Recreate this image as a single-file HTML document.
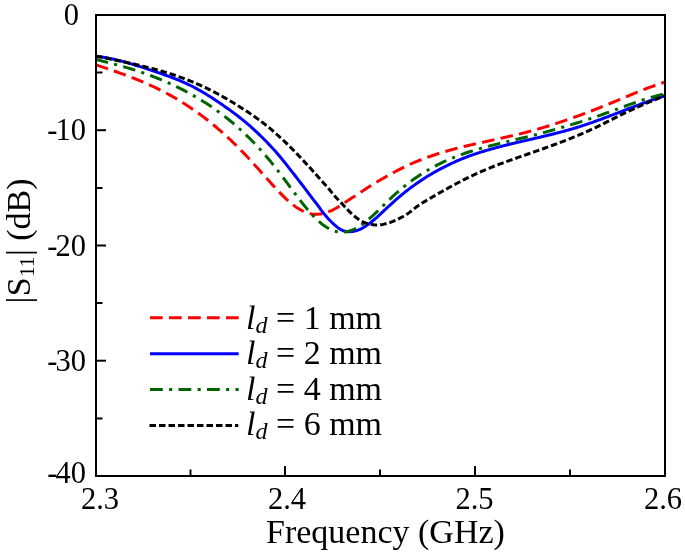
<!DOCTYPE html>
<html><head><meta charset="utf-8"><style>
html,body{margin:0;padding:0;background:#fff;}
body{width:685px;height:556px;overflow:hidden;position:relative;}
svg{position:absolute;left:0;top:0;will-change:transform;}
text{font-family:"Liberation Serif",serif;fill:#000;}
</style></head><body>
<svg width="685" height="556" viewBox="0 0 685 556">
<g fill="none" stroke-width="3" stroke-linejoin="round">
<path d="M96.00 64.91 L97.50 65.40 L99.00 65.90 L100.50 66.39 L102.00 66.89 L103.50 67.39 L105.00 67.89 L106.50 68.40 L108.00 68.90 L109.50 69.41 L111.00 69.92 L112.50 70.44 L114.00 70.96 L115.50 71.48 L117.00 72.01 L118.50 72.54 L120.00 73.08 L121.50 73.62 L123.00 74.16 L124.50 74.72 L126.00 75.27 L127.50 75.83 L129.00 76.40 L130.50 76.98 L132.00 77.56 L133.50 78.14 L135.00 78.74 L136.50 79.34 L138.00 79.95 L139.50 80.56 L141.00 81.19 L142.50 81.82 L144.00 82.46 L145.50 83.11 L147.00 83.77 L148.50 84.43 L150.00 85.11 L151.50 85.80 L153.00 86.49 L154.50 87.20 L156.00 87.91 L157.50 88.64 L159.00 89.37 L160.50 90.12 L162.00 90.88 L163.50 91.65 L165.00 92.43 L166.50 93.23 L168.00 94.03 L169.50 94.85 L171.00 95.68 L172.50 96.52 L174.00 97.38 L175.50 98.25 L177.00 99.13 L178.50 100.03 L180.00 100.94 L181.50 101.86 L183.00 102.80 L184.50 103.75 L186.00 104.71 L187.50 105.69 L189.00 106.68 L190.50 107.69 L192.00 108.71 L193.50 109.74 L195.00 110.79 L196.50 111.85 L198.00 112.93 L199.50 114.02 L201.00 115.12 L202.50 116.25 L204.00 117.38 L205.50 118.53 L207.00 119.70 L208.50 120.88 L210.00 122.07 L211.50 123.28 L213.00 124.51 L214.50 125.75 L216.00 127.00 L217.50 128.27 L219.00 129.56 L220.50 130.86 L222.00 132.18 L223.50 133.52 L225.00 134.87 L226.50 136.23 L228.00 137.62 L229.50 139.01 L231.00 140.43 L232.50 141.86 L234.00 143.31 L235.50 144.77 L237.00 146.25 L238.50 147.75 L240.00 149.26 L241.50 150.79 L243.00 152.34 L244.50 153.90 L246.00 155.49 L247.50 157.08 L249.00 158.70 L250.50 160.32 L252.00 161.96 L253.50 163.61 L255.00 165.27 L256.50 166.93 L258.00 168.60 L259.50 170.28 L261.00 171.96 L262.50 173.65 L264.00 175.33 L265.50 177.01 L267.00 178.69 L268.50 180.37 L270.00 182.04 L271.50 183.71 L273.00 185.37 L274.50 187.01 L276.00 188.64 L277.50 190.25 L279.00 191.84 L280.50 193.39 L282.00 194.92 L283.50 196.41 L285.00 197.86 L286.50 199.27 L288.00 200.64 L289.50 201.95 L291.00 203.22 L292.50 204.42 L294.00 205.56 L295.50 206.64 L297.00 207.65 L298.50 208.59 L300.00 209.46 L301.50 210.32 L303.00 211.09 L304.50 211.79 L306.00 212.40 L307.50 212.94 L309.00 213.40 L310.50 213.75 L312.00 213.99 L313.50 214.15 L315.00 214.23 L316.50 214.25 L318.00 214.20 L319.50 214.08 L321.00 213.90 L322.50 213.63 L324.00 213.26 L325.50 212.83 L327.00 212.34 L328.50 211.79 L330.00 211.18 L331.50 210.52 L333.00 209.81 L334.50 209.04 L336.00 208.22 L337.50 207.35 L339.00 206.44 L340.50 205.50 L342.00 204.52 L343.50 203.53 L345.00 202.51 L346.50 201.55 L348.00 200.58 L349.50 199.59 L351.00 198.61 L352.50 197.62 L354.00 196.63 L355.50 195.65 L357.00 194.66 L358.50 193.67 L360.00 192.69 L361.50 191.70 L363.00 190.72 L364.50 189.74 L366.00 188.76 L367.50 187.79 L369.00 186.82 L370.50 185.87 L372.00 184.95 L373.50 184.04 L375.00 183.13 L376.50 182.23 L378.00 181.33 L379.50 180.45 L381.00 179.57 L382.50 178.70 L384.00 177.84 L385.50 176.99 L387.00 176.15 L388.50 175.32 L390.00 174.50 L391.50 173.66 L393.00 172.83 L394.50 172.01 L396.00 171.20 L397.50 170.41 L399.00 169.64 L400.50 168.87 L402.00 168.13 L403.50 167.39 L405.00 166.67 L406.50 165.96 L408.00 165.26 L409.50 164.58 L411.00 163.91 L412.50 163.25 L414.00 162.60 L415.50 161.97 L417.00 161.35 L418.50 160.74 L420.00 160.14 L421.50 159.55 L423.00 158.97 L424.50 158.40 L426.00 157.84 L427.50 157.30 L429.00 156.76 L430.50 156.23 L432.00 155.72 L433.50 155.21 L435.00 154.71 L436.50 154.22 L438.00 153.74 L439.50 153.26 L441.00 152.80 L442.50 152.34 L444.00 151.89 L445.50 151.45 L447.00 151.02 L448.50 150.59 L450.00 150.17 L451.50 149.76 L453.00 149.35 L454.50 148.95 L456.00 148.55 L457.50 148.16 L459.00 147.78 L460.50 147.40 L462.00 147.03 L463.50 146.66 L465.00 146.29 L466.50 145.93 L468.00 145.57 L469.50 145.22 L471.00 144.87 L472.50 144.52 L474.00 144.18 L475.50 143.84 L477.00 143.50 L478.50 143.16 L480.00 142.83 L481.50 142.50 L483.00 142.17 L484.50 141.84 L486.00 141.51 L487.50 141.18 L489.00 140.86 L490.50 140.53 L492.00 140.20 L493.50 139.88 L495.00 139.55 L496.50 139.22 L498.00 138.90 L499.50 138.57 L501.00 138.24 L502.50 137.90 L504.00 137.57 L505.50 137.24 L507.00 136.90 L508.50 136.56 L510.00 136.22 L511.50 135.87 L513.00 135.52 L514.50 135.17 L516.00 134.81 L517.50 134.45 L519.00 134.09 L520.50 133.72 L522.00 133.35 L523.50 132.97 L525.00 132.59 L526.50 132.20 L528.00 131.81 L529.50 131.41 L531.00 131.01 L532.50 130.60 L534.00 130.18 L535.50 129.76 L537.00 129.34 L538.50 128.91 L540.00 128.48 L541.50 128.04 L543.00 127.59 L544.50 127.14 L546.00 126.69 L547.50 126.23 L549.00 125.77 L550.50 125.30 L552.00 124.83 L553.50 124.35 L555.00 123.87 L556.50 123.39 L558.00 122.89 L559.50 122.40 L561.00 121.90 L562.50 121.40 L564.00 120.89 L565.50 120.38 L567.00 119.86 L568.50 119.34 L570.00 118.82 L571.50 118.29 L573.00 117.76 L574.50 117.23 L576.00 116.69 L577.50 116.14 L579.00 115.60 L580.50 115.05 L582.00 114.49 L583.50 113.93 L585.00 113.37 L586.50 112.81 L588.00 112.24 L589.50 111.67 L591.00 111.09 L592.50 110.51 L594.00 109.93 L595.50 109.35 L597.00 108.76 L598.50 108.17 L600.00 107.57 L601.50 106.97 L603.00 106.37 L604.50 105.77 L606.00 105.16 L607.50 104.55 L609.00 103.94 L610.50 103.33 L612.00 102.71 L613.50 102.09 L615.00 101.47 L616.50 100.84 L618.00 100.21 L619.50 99.58 L621.00 98.95 L622.50 98.32 L624.00 97.69 L625.50 97.06 L627.00 96.43 L628.50 95.80 L630.00 95.17 L631.50 94.55 L633.00 93.93 L634.50 93.31 L636.00 92.69 L637.50 92.08 L639.00 91.47 L640.50 90.87 L642.00 90.27 L643.50 89.68 L645.00 89.10 L646.50 88.52 L648.00 87.95 L649.50 87.39 L651.00 86.84 L652.50 86.29 L654.00 85.75 L655.50 85.23 L657.00 84.71 L658.50 84.21 L660.00 83.71 L661.50 83.23 L663.00 82.76 L664.50 82.30 L665.00 82.15" stroke="#ff0000" stroke-dasharray="12.64 6.27" stroke-dashoffset="0.05"/>
<path d="M96.00 56.32 L97.50 56.48 L99.00 56.66 L100.50 56.86 L102.00 57.08 L103.50 57.31 L105.00 57.55 L106.50 57.82 L108.00 58.09 L109.50 58.38 L111.00 58.68 L112.50 59.00 L114.00 59.33 L115.50 59.67 L117.00 60.02 L118.50 60.38 L120.00 60.76 L121.50 61.14 L123.00 61.54 L124.50 61.94 L126.00 62.36 L127.50 62.78 L129.00 63.21 L130.50 63.65 L132.00 64.10 L133.50 64.55 L135.00 65.01 L136.50 65.48 L138.00 65.95 L139.50 66.43 L141.00 66.91 L142.50 67.40 L144.00 67.89 L145.50 68.38 L147.00 68.88 L148.50 69.38 L150.00 69.88 L151.50 70.38 L153.00 70.89 L154.50 71.39 L156.00 71.90 L157.50 72.41 L159.00 72.92 L160.50 73.43 L162.00 73.95 L163.50 74.47 L165.00 75.00 L166.50 75.53 L168.00 76.07 L169.50 76.62 L171.00 77.17 L172.50 77.74 L174.00 78.31 L175.50 78.90 L177.00 79.49 L178.50 80.10 L180.00 80.73 L181.50 81.36 L183.00 82.01 L184.50 82.68 L186.00 83.36 L187.50 84.07 L189.00 84.78 L190.50 85.52 L192.00 86.27 L193.50 87.04 L195.00 87.83 L196.50 88.63 L198.00 89.45 L199.50 90.29 L201.00 91.14 L202.50 92.01 L204.00 92.90 L205.50 93.80 L207.00 94.71 L208.50 95.65 L210.00 96.59 L211.50 97.55 L213.00 98.53 L214.50 99.52 L216.00 100.52 L217.50 101.54 L219.00 102.58 L220.50 103.60 L222.00 104.60 L223.50 105.62 L225.00 106.65 L226.50 107.69 L228.00 108.75 L229.50 109.82 L231.00 110.91 L232.50 112.01 L234.00 113.12 L235.50 114.25 L237.00 115.40 L238.50 116.56 L240.00 117.74 L241.50 118.94 L243.00 120.15 L244.50 121.37 L246.00 122.62 L247.50 123.87 L249.00 125.15 L250.50 126.46 L252.00 127.81 L253.50 129.17 L255.00 130.56 L256.50 131.96 L258.00 133.38 L259.50 134.82 L261.00 136.27 L262.50 137.75 L264.00 139.24 L265.50 140.75 L267.00 142.30 L268.50 143.87 L270.00 145.45 L271.50 147.06 L273.00 148.68 L274.50 150.32 L276.00 151.98 L277.50 153.73 L279.00 155.50 L280.50 157.29 L282.00 159.10 L283.50 160.93 L285.00 162.80 L286.50 164.70 L288.00 166.62 L289.50 168.55 L291.00 170.50 L292.50 172.39 L294.00 174.30 L295.50 176.22 L297.00 178.14 L298.50 180.08 L300.00 182.02 L301.50 183.96 L303.00 185.91 L304.50 187.86 L306.00 189.85 L307.50 191.87 L309.00 193.89 L310.50 195.90 L312.00 197.91 L313.50 199.87 L315.00 201.76 L316.50 203.68 L318.00 205.67 L319.50 207.70 L321.00 209.76 L322.50 211.88 L324.00 213.79 L325.50 215.56 L327.00 217.29 L328.50 218.92 L330.00 220.48 L331.50 222.01 L333.00 223.46 L334.50 224.84 L336.00 226.15 L337.50 227.37 L339.00 228.45 L340.50 229.38 L342.00 230.15 L343.50 230.77 L345.00 231.24 L346.50 231.53 L348.00 231.68 L349.50 231.70 L351.00 231.59 L352.50 231.41 L354.00 231.20 L355.50 230.88 L357.00 230.46 L358.50 229.94 L360.00 229.33 L361.50 228.58 L363.00 227.75 L364.50 226.85 L366.00 225.88 L367.50 224.84 L369.00 223.76 L370.50 222.63 L372.00 221.46 L373.50 220.24 L375.00 218.99 L376.50 217.69 L378.00 216.31 L379.50 214.92 L381.00 213.51 L382.50 212.09 L384.00 210.68 L385.50 209.27 L387.00 207.87 L388.50 206.48 L390.00 205.12 L391.50 203.77 L393.00 202.42 L394.50 201.06 L396.00 199.73 L397.50 198.42 L399.00 197.13 L400.50 195.86 L402.00 194.61 L403.50 193.38 L405.00 192.17 L406.50 190.98 L408.00 189.82 L409.50 188.67 L411.00 187.54 L412.50 186.43 L414.00 185.34 L415.50 184.27 L417.00 183.21 L418.50 182.18 L420.00 181.16 L421.50 180.16 L423.00 179.18 L424.50 178.21 L426.00 177.27 L427.50 176.33 L429.00 175.42 L430.50 174.52 L432.00 173.63 L433.50 172.76 L435.00 171.91 L436.50 171.07 L438.00 170.24 L439.50 169.43 L441.00 168.63 L442.50 167.85 L444.00 167.08 L445.50 166.33 L447.00 165.58 L448.50 164.85 L450.00 164.14 L451.50 163.43 L453.00 162.74 L454.50 162.06 L456.00 161.40 L457.50 160.75 L459.00 160.11 L460.50 159.48 L462.00 158.86 L463.50 158.26 L465.00 157.66 L466.50 157.07 L468.00 156.50 L469.50 155.93 L471.00 155.39 L472.50 154.87 L474.00 154.36 L475.50 153.86 L477.00 153.37 L478.50 152.88 L480.00 152.41 L481.50 151.94 L483.00 151.48 L484.50 151.02 L486.00 150.57 L487.50 150.13 L489.00 149.70 L490.50 149.27 L492.00 148.85 L493.50 148.44 L495.00 148.03 L496.50 147.62 L498.00 147.22 L499.50 146.83 L501.00 146.44 L502.50 146.05 L504.00 145.67 L505.50 145.29 L507.00 144.92 L508.50 144.55 L510.00 144.18 L511.50 143.82 L513.00 143.46 L514.50 143.10 L516.00 142.74 L517.50 142.39 L519.00 142.04 L520.50 141.69 L522.00 141.34 L523.50 140.99 L525.00 140.64 L526.50 140.30 L528.00 139.95 L529.50 139.61 L531.00 139.26 L532.50 138.92 L534.00 138.57 L535.50 138.22 L537.00 137.88 L538.50 137.53 L540.00 137.18 L541.50 136.83 L543.00 136.47 L544.50 136.12 L546.00 135.76 L547.50 135.40 L549.00 135.04 L550.50 134.67 L552.00 134.30 L553.50 133.93 L555.00 133.55 L556.50 133.17 L558.00 132.79 L559.50 132.40 L561.00 132.00 L562.50 131.61 L564.00 131.20 L565.50 130.79 L567.00 130.38 L568.50 129.96 L570.00 129.53 L571.50 129.10 L573.00 128.66 L574.50 128.22 L576.00 127.76 L577.50 127.30 L579.00 126.84 L580.50 126.36 L582.00 125.88 L583.50 125.39 L585.00 124.89 L586.50 124.39 L588.00 123.88 L589.50 123.37 L591.00 122.85 L592.50 122.32 L594.00 121.79 L595.50 121.25 L597.00 120.71 L598.50 120.17 L600.00 119.62 L601.50 119.07 L603.00 118.51 L604.50 117.95 L606.00 117.39 L607.50 116.82 L609.00 116.25 L610.50 115.68 L612.00 115.11 L613.50 114.54 L615.00 113.96 L616.50 113.39 L618.00 112.81 L619.50 112.23 L621.00 111.66 L622.50 111.08 L624.00 110.50 L625.50 109.92 L627.00 109.35 L628.50 108.77 L630.00 108.20 L631.50 107.63 L633.00 107.06 L634.50 106.49 L636.00 105.92 L637.50 105.36 L639.00 104.80 L640.50 104.24 L642.00 103.69 L643.50 103.14 L645.00 102.59 L646.50 102.05 L648.00 101.52 L649.50 100.98 L651.00 100.46 L652.50 99.94 L654.00 99.42 L655.50 98.91 L657.00 98.41 L658.50 97.91 L660.00 97.42 L661.50 96.94 L663.00 96.46 L664.50 95.99 L665.00 95.84" stroke="#0000ff"/>
<path d="M96.00 59.56 L97.50 59.91 L99.00 60.27 L100.50 60.62 L102.00 60.98 L103.50 61.35 L105.00 61.72 L106.50 62.09 L108.00 62.47 L109.50 62.85 L111.00 63.24 L112.50 63.63 L114.00 64.03 L115.50 64.43 L117.00 64.83 L118.50 65.25 L120.00 65.66 L121.50 66.09 L123.00 66.51 L124.50 66.95 L126.00 67.39 L127.50 67.84 L129.00 68.29 L130.50 68.75 L132.00 69.21 L133.50 69.68 L135.00 70.16 L136.50 70.65 L138.00 71.14 L139.50 71.64 L141.00 72.15 L142.50 72.67 L144.00 73.19 L145.50 73.72 L147.00 74.26 L148.50 74.80 L150.00 75.36 L151.50 75.92 L153.00 76.49 L154.50 77.07 L156.00 77.66 L157.50 78.26 L159.00 78.86 L160.50 79.48 L162.00 80.10 L163.50 80.74 L165.00 81.38 L166.50 82.03 L168.00 82.70 L169.50 83.37 L171.00 84.05 L172.50 84.75 L174.00 85.45 L175.50 86.16 L177.00 86.89 L178.50 87.62 L180.00 88.37 L181.50 89.13 L183.00 89.90 L184.50 90.68 L186.00 91.47 L187.50 92.27 L189.00 93.08 L190.50 93.91 L192.00 94.75 L193.50 95.60 L195.00 96.46 L196.50 97.34 L198.00 98.22 L199.50 99.12 L201.00 100.04 L202.50 100.96 L204.00 101.90 L205.50 102.86 L207.00 103.83 L208.50 104.81 L210.00 105.81 L211.50 106.82 L213.00 107.85 L214.50 108.89 L216.00 109.95 L217.50 111.03 L219.00 112.12 L220.50 113.22 L222.00 114.35 L223.50 115.49 L225.00 116.65 L226.50 117.83 L228.00 119.02 L229.50 120.23 L231.00 121.47 L232.50 122.72 L234.00 123.98 L235.50 125.27 L237.00 126.58 L238.50 127.91 L240.00 129.25 L241.50 130.62 L243.00 132.01 L244.50 133.42 L246.00 134.85 L247.50 136.30 L249.00 137.77 L250.50 139.26 L252.00 140.78 L253.50 142.32 L255.00 143.88 L256.50 145.46 L258.00 147.07 L259.50 148.70 L261.00 150.36 L262.50 152.03 L264.00 153.74 L265.50 155.46 L267.00 157.21 L268.50 158.99 L270.00 160.79 L271.50 162.62 L273.00 164.47 L274.50 166.35 L276.00 168.26 L277.50 170.19 L279.00 172.15 L280.50 174.13 L282.00 176.14 L283.50 178.16 L285.00 180.20 L286.50 182.21 L288.00 184.22 L289.50 186.24 L291.00 188.25 L292.50 190.26 L294.00 192.27 L295.50 194.26 L297.00 196.25 L298.50 198.22 L300.00 200.17 L301.50 202.09 L303.00 203.98 L304.50 205.83 L306.00 207.65 L307.50 209.42 L309.00 211.15 L310.50 212.85 L312.00 214.52 L313.50 216.14 L315.00 217.69 L316.50 219.19 L318.00 220.61 L319.50 221.96 L321.00 223.23 L322.50 224.42 L324.00 225.53 L325.50 226.56 L327.00 227.54 L328.50 228.42 L330.00 229.22 L331.50 229.93 L333.00 230.55 L334.50 231.08 L336.00 231.49 L337.50 231.79 L339.00 232.00 L340.50 232.12 L342.00 232.16 L343.50 232.10 L345.00 231.96 L346.50 231.73 L348.00 231.41 L349.50 231.01 L351.00 230.51 L352.50 229.93 L354.00 229.27 L355.50 228.53 L357.00 227.72 L358.50 226.83 L360.00 225.88 L361.50 224.87 L363.00 223.79 L364.50 222.67 L366.00 221.49 L367.50 220.27 L369.00 219.00 L370.50 217.70 L372.00 216.36 L373.50 214.99 L375.00 213.59 L376.50 212.17 L378.00 210.74 L379.50 209.28 L381.00 207.82 L382.50 206.35 L384.00 204.87 L385.50 203.40 L387.00 201.93 L388.50 200.47 L390.00 199.02 L391.50 197.59 L393.00 196.18 L394.50 194.79 L396.00 193.43 L397.50 192.10 L399.00 190.79 L400.50 189.50 L402.00 188.24 L403.50 187.01 L405.00 185.80 L406.50 184.61 L408.00 183.45 L409.50 182.31 L411.00 181.19 L412.50 180.10 L414.00 179.02 L415.50 177.97 L417.00 176.94 L418.50 175.93 L420.00 174.95 L421.50 173.98 L423.00 173.03 L424.50 172.10 L426.00 171.19 L427.50 170.31 L429.00 169.43 L430.50 168.58 L432.00 167.75 L433.50 166.93 L435.00 166.13 L436.50 165.35 L438.00 164.59 L439.50 163.84 L441.00 163.11 L442.50 162.39 L444.00 161.69 L445.50 161.00 L447.00 160.33 L448.50 159.67 L450.00 159.03 L451.50 158.40 L453.00 157.78 L454.50 157.18 L456.00 156.59 L457.50 156.01 L459.00 155.44 L460.50 154.89 L462.00 154.35 L463.50 153.81 L465.00 153.29 L466.50 152.78 L468.00 152.28 L469.50 151.79 L471.00 151.31 L472.50 150.83 L474.00 150.37 L475.50 149.91 L477.00 149.46 L478.50 149.02 L480.00 148.59 L481.50 148.16 L483.00 147.74 L484.50 147.33 L486.00 146.92 L487.50 146.52 L489.00 146.13 L490.50 145.74 L492.00 145.35 L493.50 144.97 L495.00 144.59 L496.50 144.21 L498.00 143.84 L499.50 143.47 L501.00 143.11 L502.50 142.74 L504.00 142.38 L505.50 142.02 L507.00 141.66 L508.50 141.31 L510.00 140.95 L511.50 140.59 L513.00 140.24 L514.50 139.88 L516.00 139.52 L517.50 139.16 L519.00 138.80 L520.50 138.44 L522.00 138.08 L523.50 137.71 L525.00 137.34 L526.50 136.97 L528.00 136.60 L529.50 136.22 L531.00 135.84 L532.50 135.46 L534.00 135.08 L535.50 134.69 L537.00 134.31 L538.50 133.92 L540.00 133.52 L541.50 133.13 L543.00 132.73 L544.50 132.33 L546.00 131.93 L547.50 131.52 L549.00 131.11 L550.50 130.70 L552.00 130.29 L553.50 129.87 L555.00 129.45 L556.50 129.03 L558.00 128.60 L559.50 128.17 L561.00 127.74 L562.50 127.30 L564.00 126.86 L565.50 126.42 L567.00 125.98 L568.50 125.53 L570.00 125.08 L571.50 124.63 L573.00 124.17 L574.50 123.71 L576.00 123.24 L577.50 122.78 L579.00 122.31 L580.50 121.83 L582.00 121.35 L583.50 120.87 L585.00 120.39 L586.50 119.90 L588.00 119.41 L589.50 118.91 L591.00 118.41 L592.50 117.91 L594.00 117.40 L595.50 116.89 L597.00 116.38 L598.50 115.86 L600.00 115.34 L601.50 114.81 L603.00 114.28 L604.50 113.75 L606.00 113.21 L607.50 112.67 L609.00 112.13 L610.50 111.58 L612.00 111.03 L613.50 110.47 L615.00 109.92 L616.50 109.36 L618.00 108.80 L619.50 108.24 L621.00 107.69 L622.50 107.13 L624.00 106.58 L625.50 106.02 L627.00 105.47 L628.50 104.93 L630.00 104.38 L631.50 103.84 L633.00 103.31 L634.50 102.78 L636.00 102.25 L637.50 101.73 L639.00 101.22 L640.50 100.72 L642.00 100.22 L643.50 99.73 L645.00 99.25 L646.50 98.78 L648.00 98.32 L649.50 97.87 L651.00 97.43 L652.50 97.01 L654.00 96.59 L655.50 96.19 L657.00 95.80 L658.50 95.42 L660.00 95.06 L661.50 94.72 L663.00 94.38 L664.50 94.07 L665.00 93.97" stroke="#006400" stroke-dasharray="12.6 6.3 3.15 6.3" stroke-dashoffset="0.22"/>
<path d="M96.00 56.13 L97.50 56.44 L99.00 56.75 L100.50 57.05 L102.00 57.36 L103.50 57.66 L105.00 57.97 L106.50 58.27 L108.00 58.58 L109.50 58.88 L111.00 59.19 L112.50 59.49 L114.00 59.80 L115.50 60.11 L117.00 60.42 L118.50 60.74 L120.00 61.05 L121.50 61.36 L123.00 61.68 L124.50 62.00 L126.00 62.33 L127.50 62.65 L129.00 62.98 L130.50 63.31 L132.00 63.64 L133.50 63.98 L135.00 64.32 L136.50 64.67 L138.00 65.02 L139.50 65.37 L141.00 65.73 L142.50 66.09 L144.00 66.45 L145.50 66.83 L147.00 67.20 L148.50 67.58 L150.00 67.97 L151.50 68.36 L153.00 68.76 L154.50 69.16 L156.00 69.57 L157.50 69.99 L159.00 70.41 L160.50 70.84 L162.00 71.28 L163.50 71.72 L165.00 72.17 L166.50 72.63 L168.00 73.09 L169.50 73.57 L171.00 74.05 L172.50 74.54 L174.00 75.03 L175.50 75.54 L177.00 76.05 L178.50 76.57 L180.00 77.11 L181.50 77.65 L183.00 78.20 L184.50 78.76 L186.00 79.33 L187.50 79.91 L189.00 80.50 L190.50 81.10 L192.00 81.71 L193.50 82.33 L195.00 82.96 L196.50 83.60 L198.00 84.26 L199.50 84.92 L201.00 85.60 L202.50 86.29 L204.00 86.98 L205.50 87.69 L207.00 88.42 L208.50 89.15 L210.00 89.89 L211.50 90.65 L213.00 91.41 L214.50 92.19 L216.00 92.97 L217.50 93.77 L219.00 94.58 L220.50 95.40 L222.00 96.23 L223.50 97.07 L225.00 97.92 L226.50 98.78 L228.00 99.65 L229.50 100.53 L231.00 101.42 L232.50 102.32 L234.00 103.23 L235.50 104.15 L237.00 105.08 L238.50 106.02 L240.00 106.96 L241.50 107.92 L243.00 108.89 L244.50 109.87 L246.00 110.86 L247.50 111.85 L249.00 112.86 L250.50 113.87 L252.00 114.90 L253.50 115.94 L255.00 116.99 L256.50 118.06 L258.00 119.14 L259.50 120.23 L261.00 121.35 L262.50 122.48 L264.00 123.63 L265.50 124.80 L267.00 125.99 L268.50 127.20 L270.00 128.44 L271.50 129.70 L273.00 130.99 L274.50 132.30 L276.00 133.63 L277.50 134.99 L279.00 136.38 L280.50 137.76 L282.00 139.13 L283.50 140.51 L285.00 141.92 L286.50 143.34 L288.00 144.79 L289.50 146.24 L291.00 147.74 L292.50 149.26 L294.00 150.79 L295.50 152.34 L297.00 153.90 L298.50 155.47 L300.00 157.05 L301.50 158.64 L303.00 160.25 L304.50 161.85 L306.00 163.47 L307.50 165.09 L309.00 166.72 L310.50 168.36 L312.00 170.02 L313.50 171.69 L315.00 173.35 L316.50 175.02 L318.00 176.69 L319.50 178.36 L321.00 180.03 L322.50 181.70 L324.00 183.38 L325.50 185.07 L327.00 186.77 L328.50 188.50 L330.00 190.26 L331.50 192.10 L333.00 193.98 L334.50 195.78 L336.00 197.46 L337.50 199.05 L339.00 200.58 L340.50 202.10 L342.00 203.65 L343.50 205.25 L345.00 206.89 L346.50 208.51 L348.00 210.11 L349.50 211.64 L351.00 213.11 L352.50 214.49 L354.00 215.80 L355.50 217.02 L357.00 218.16 L358.50 219.22 L360.00 220.20 L361.50 221.05 L363.00 221.82 L364.50 222.50 L366.00 223.09 L367.50 223.59 L369.00 224.01 L370.50 224.35 L372.00 224.61 L373.50 224.79 L375.00 224.90 L376.50 224.94 L378.00 224.91 L379.50 224.81 L381.00 224.65 L382.50 224.42 L384.00 224.14 L385.50 223.80 L387.00 223.41 L388.50 222.96 L390.00 222.47 L391.50 221.93 L393.00 221.34 L394.50 220.71 L396.00 220.04 L397.50 219.34 L399.00 218.59 L400.50 217.82 L402.00 217.02 L403.50 216.19 L405.00 215.31 L406.50 214.39 L408.00 213.41 L409.50 212.36 L411.00 211.23 L412.50 210.02 L414.00 208.80 L415.50 207.62 L417.00 206.50 L418.50 205.44 L420.00 204.43 L421.50 203.45 L423.00 202.51 L424.50 201.60 L426.00 200.70 L427.50 199.83 L429.00 198.95 L430.50 198.08 L432.00 197.22 L433.50 196.35 L435.00 195.49 L436.50 194.63 L438.00 193.77 L439.50 192.91 L441.00 192.06 L442.50 191.22 L444.00 190.37 L445.50 189.53 L447.00 188.70 L448.50 187.87 L450.00 187.04 L451.50 186.22 L453.00 185.41 L454.50 184.60 L456.00 183.80 L457.50 183.01 L459.00 182.22 L460.50 181.44 L462.00 180.67 L463.50 179.90 L465.00 179.15 L466.50 178.40 L468.00 177.66 L469.50 176.93 L471.00 176.20 L472.50 175.49 L474.00 174.79 L475.50 174.10 L477.00 173.41 L478.50 172.74 L480.00 172.08 L481.50 171.42 L483.00 170.78 L484.50 170.14 L486.00 169.51 L487.50 168.89 L489.00 168.28 L490.50 167.68 L492.00 167.08 L493.50 166.49 L495.00 165.90 L496.50 165.32 L498.00 164.75 L499.50 164.18 L501.00 163.62 L502.50 163.06 L504.00 162.51 L505.50 161.96 L507.00 161.41 L508.50 160.87 L510.00 160.33 L511.50 159.80 L513.00 159.26 L514.50 158.73 L516.00 158.21 L517.50 157.68 L519.00 157.15 L520.50 156.63 L522.00 156.11 L523.50 155.58 L525.00 155.06 L526.50 154.54 L528.00 154.02 L529.50 153.49 L531.00 152.97 L532.50 152.45 L534.00 151.93 L535.50 151.40 L537.00 150.88 L538.50 150.35 L540.00 149.83 L541.50 149.30 L543.00 148.77 L544.50 148.23 L546.00 147.70 L547.50 147.16 L549.00 146.62 L550.50 146.08 L552.00 145.53 L553.50 144.98 L555.00 144.43 L556.50 143.88 L558.00 143.32 L559.50 142.75 L561.00 142.19 L562.50 141.62 L564.00 141.04 L565.50 140.46 L567.00 139.87 L568.50 139.28 L570.00 138.69 L571.50 138.09 L573.00 137.48 L574.50 136.87 L576.00 136.25 L577.50 135.62 L579.00 134.99 L580.50 134.35 L582.00 133.71 L583.50 133.06 L585.00 132.40 L586.50 131.73 L588.00 131.06 L589.50 130.38 L591.00 129.69 L592.50 128.99 L594.00 128.28 L595.50 127.57 L597.00 126.85 L598.50 126.12 L600.00 125.39 L601.50 124.65 L603.00 123.91 L604.50 123.16 L606.00 122.41 L607.50 121.66 L609.00 120.90 L610.50 120.15 L612.00 119.40 L613.50 118.64 L615.00 117.89 L616.50 117.14 L618.00 116.39 L619.50 115.65 L621.00 114.91 L622.50 114.18 L624.00 113.45 L625.50 112.73 L627.00 112.01 L628.50 111.30 L630.00 110.60 L631.50 109.90 L633.00 109.20 L634.50 108.52 L636.00 107.83 L637.50 107.16 L639.00 106.49 L640.50 105.82 L642.00 105.16 L643.50 104.51 L645.00 103.86 L646.50 103.22 L648.00 102.58 L649.50 101.95 L651.00 101.33 L652.50 100.71 L654.00 100.10 L655.50 99.49 L657.00 98.89 L658.50 98.30 L660.00 97.71 L661.50 97.13 L663.00 96.55 L664.50 95.98 L665.00 95.79" stroke="#000" stroke-dasharray="6.48 2.98" stroke-dashoffset="0.01"/>
</g>
<g stroke="#000" stroke-width="2" fill="none">
<rect x="96" y="15" width="569" height="461"/>
<line x1="190.5" y1="476" x2="190.5" y2="469.5"/><line x1="285" y1="476" x2="285" y2="466"/><line x1="380" y1="476" x2="380" y2="469.5"/><line x1="475" y1="476" x2="475" y2="466"/><line x1="570" y1="476" x2="570" y2="469.5"/><line x1="96" y1="72.5" x2="102.5" y2="72.5"/><line x1="96" y1="130.2" x2="106" y2="130.2"/><line x1="96" y1="188" x2="102.5" y2="188"/><line x1="96" y1="245.5" x2="106" y2="245.5"/><line x1="96" y1="303" x2="102.5" y2="303"/><line x1="96" y1="360.7" x2="106" y2="360.7"/><line x1="96" y1="418.5" x2="102.5" y2="418.5"/>
</g>
<g font-size="30.5">
<text x="86" y="25" text-anchor="end" dx="-7">0</text>
<text x="86" y="140" text-anchor="end">-<tspan dx="-2">10</tspan></text>
<text x="86" y="255.5" text-anchor="end">-<tspan dx="-2">20</tspan></text>
<text x="86" y="370.5" text-anchor="end">-<tspan dx="-2">30</tspan></text>
<text x="86" y="483" text-anchor="end">-<tspan dx="-2">40</tspan></text>
<text x="100" y="509" text-anchor="middle">2.3</text>
<text x="287" y="508.5" text-anchor="middle">2.4</text>
<text x="474.5" y="509" text-anchor="middle">2.5</text>
<text x="663" y="509" text-anchor="middle">2.6</text>
</g>
<text x="266" y="542.5" font-size="34">Frequency (GHz)</text>
<text transform="translate(30,303.4) rotate(-90)" font-size="34">|<tspan dx="0.3">S</tspan><tspan font-size="21" dy="4" dx="0.3">11</tspan><tspan dy="-4" dx="0.8">|</tspan><tspan> (dB)</tspan></text>
<g fill="none" stroke-width="3">
<line x1="150" y1="317.8" x2="238.7" y2="317.8" stroke="#ff0000" stroke-dasharray="12.7 6.3"/>
<line x1="150" y1="353.7" x2="238.7" y2="353.7" stroke="#0000ff"/>
<line x1="150" y1="389.4" x2="238.7" y2="389.4" stroke="#006400" stroke-dasharray="12.8 6.3 3.1 6.3"/>
<line x1="149.5" y1="425.5" x2="238.3" y2="425.5" stroke="#000" stroke-dasharray="6.5 3"/>
</g>
<g font-size="34">
<text x="246" y="328.5"><tspan font-style="italic">l</tspan><tspan font-style="italic" font-size="24" dy="4">d</tspan><tspan dy="-4"> = 1 mm</tspan></text>
<text x="246" y="364"><tspan font-style="italic">l</tspan><tspan font-style="italic" font-size="24" dy="4">d</tspan><tspan dy="-4"> = 2 mm</tspan></text>
<text x="246" y="399.5"><tspan font-style="italic">l</tspan><tspan font-style="italic" font-size="24" dy="4">d</tspan><tspan dy="-4"> = 4 mm</tspan></text>
<text x="246" y="435"><tspan font-style="italic">l</tspan><tspan font-style="italic" font-size="24" dy="4">d</tspan><tspan dy="-4"> = 6 mm</tspan></text>
</g>
</svg>
</body></html>
